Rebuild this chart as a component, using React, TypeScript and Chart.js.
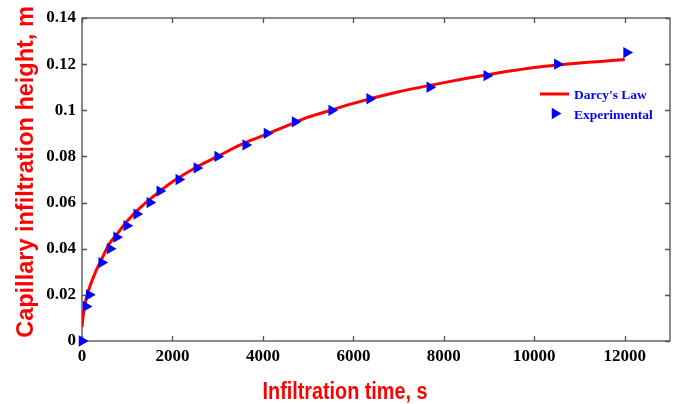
import React, { useEffect, useRef } from "react";
import { Chart, registerables } from "chart.js";

Chart.register(...registerables);

// ---- data ----
const timeTicks = [0, 2000, 4000, 6000, 8000, 10000, 12000];
const timeTickLabels = ["0", "2000", "4000", "6000", "8000", "10000", "12000"];
const heightTicks = [0, 0.02, 0.04, 0.06, 0.08, 0.1, 0.12, 0.14];
const heightTickLabels = ["0", "0.02", "0.04", "0.06", "0.08", "0.1", "0.12", "0.14"];

const darcyTime = [0, 20, 50, 100, 200, 300, 400, 600, 800, 1000, 1300, 1600, 2000, 2500, 3000, 3500, 4000, 4500, 5000, 5500, 6000, 7000, 8000, 9000, 10000, 11000, 12000];
const darcyHeight = [0.006, 0.01, 0.014, 0.019, 0.025, 0.03, 0.034, 0.042, 0.047, 0.052, 0.058, 0.063, 0.069, 0.075, 0.08, 0.085, 0.089, 0.093, 0.097, 0.1, 0.103, 0.108, 0.112, 0.1155, 0.1185, 0.1205, 0.122];

const expTime = [0, 88, 160, 435, 620, 765, 990, 1210, 1500, 1720, 2140, 2540, 3000, 3620, 4090, 4710, 5520, 6360, 7690, 8950, 10510, 12040];
const expHeight = [0, 0.015, 0.02, 0.034, 0.04, 0.045, 0.05, 0.055, 0.06, 0.065, 0.07, 0.075, 0.08, 0.085, 0.09, 0.095, 0.1, 0.105, 0.11, 0.115, 0.12, 0.125];

const xTitle = "Infiltration time, s";
const yTitle = "Capillary infiltration height, m";
const legendLabels = ["Darcy's Law", "Experimental"];

const RED = "#ff0000";
const BLUE = "#0000ff";
const AXIS = "#505050";
const SERIF = '"Liberation Serif", "Times New Roman", serif';
const SANS = '"Liberation Sans", Arial, sans-serif';

const framePlugin = {
  id: "frame",
  beforeDatasetsDraw(chart: any) {
    const { ctx, chartArea } = chart;
    const { left, right, top, bottom } = chartArea;
    const xs = chart.scales.x;
    const ys = chart.scales.y;
    ctx.save();
    ctx.strokeStyle = AXIS;
    ctx.lineWidth = 1.3;
    ctx.strokeRect(left, top, right - left, bottom - top);
    ctx.beginPath();
    const tl = 5;
    timeTicks.forEach((v) => {
      const px = Math.round(xs.getPixelForValue(v)) + 0.5;
      ctx.moveTo(px, bottom);
      ctx.lineTo(px, bottom - tl);
      ctx.moveTo(px, top);
      ctx.lineTo(px, top + tl);
    });
    heightTicks.forEach((v) => {
      const py = Math.round(ys.getPixelForValue(v)) + 0.5;
      ctx.moveTo(left, py);
      ctx.lineTo(left + tl, py);
      ctx.moveTo(right, py);
      ctx.lineTo(right - tl, py);
    });
    ctx.stroke();
    ctx.restore();
  },
};

const textPlugin = {
  id: "texts",
  afterDraw(chart: any) {
    const { ctx } = chart;
    ctx.save();
    // x title (slightly condensed like the reference)
    ctx.fillStyle = RED;
    ctx.font = `bold 23px ${SANS}`;
    ctx.textAlign = "center";
    ctx.textBaseline = "alphabetic";
    ctx.save();
    ctx.translate(345, 399);
    ctx.scale(0.86, 1);
    ctx.fillText(xTitle, 0, 0);
    ctx.restore();
    // y title
    ctx.save();
    ctx.font = `bold 23.5px ${SANS}`;
    ctx.translate(33, 172);
    ctx.rotate(-Math.PI / 2);
    ctx.fillText(yTitle, 0, 0);
    ctx.restore();

    // legend
    ctx.strokeStyle = RED;
    ctx.lineWidth = 3;
    ctx.beginPath();
    ctx.moveTo(540, 94);
    ctx.lineTo(569, 94);
    ctx.stroke();
    ctx.fillStyle = BLUE;
    ctx.beginPath();
    const cx = 555, cy = 113.5, r = 6.5;
    for (let k = 0; k < 3; k++) {
      const a = Math.PI / 2 + (k * 2 * Math.PI) / 3;
      const px = cx + Math.sin(a) * r;
      const py = cy - Math.cos(a) * r;
      if (k === 0) ctx.moveTo(px, py);
      else ctx.lineTo(px, py);
    }
    ctx.closePath();
    ctx.fill();
    ctx.font = `bold 13.5px ${SERIF}`;
    ctx.textAlign = "left";
    ctx.fillText(legendLabels[0], 574, 99);
    ctx.fillText(legendLabels[1], 574, 118.5);
    ctx.restore();
  },
};

export default function App() {
  const ref = useRef<HTMLCanvasElement | null>(null);

  useEffect(() => {
    if (!ref.current) return;
    const tickFont = { family: SERIF, weight: "bold" as const, size: 17 };
    const chart = new Chart(ref.current, {
      type: "scatter",
      data: {
        datasets: [
          {
            label: legendLabels[0],
            data: darcyTime.map((t, i) => ({ x: t, y: darcyHeight[i] })),
            showLine: true,
            borderColor: RED,
            backgroundColor: RED,
            borderWidth: 3,
            pointRadius: 0,
            cubicInterpolationMode: "monotone",
            order: 1,
          },
          {
            label: legendLabels[1],
            data: expTime.map((t, i) => ({ x: t, y: expHeight[i] })),
            showLine: false,
            pointStyle: "triangle",
            rotation: 90,
            pointRadius: 6.5,
            backgroundColor: BLUE,
            borderColor: BLUE,
            borderWidth: 0,
            clip: false as any,
            order: 0,
          },
        ],
      },
      options: {
        animation: false,
        responsive: false,
        maintainAspectRatio: false,
        layout: { padding: { top: 18, right: 9, left: 0, bottom: 0 } },
        plugins: {
          legend: { display: false },
          tooltip: { enabled: false },
          title: { display: false },
        },
        scales: {
          x: {
            type: "linear",
            min: 0,
            max: 13000,
            afterBuildTicks: (s: any) => {
              s.ticks = timeTicks.map((v) => ({ value: v }));
            },
            afterFit: (s: any) => {
              s.height = 63;
            },
            grid: { display: false, drawTicks: false },
            border: { display: false },
            ticks: {
              font: tickFont,
              color: "#000",
              padding: 5,
              maxRotation: 0,
              autoSkip: false,
              callback: (v: any) => timeTickLabels[timeTicks.indexOf(Number(v))] ?? "",
            },
          },
          y: {
            type: "linear",
            min: 0,
            max: 0.14,
            afterBuildTicks: (s: any) => {
              s.ticks = heightTicks.map((v) => ({ value: v }));
            },
            afterFit: (s: any) => {
              s.width = 82;
            },
            grid: { display: false, drawTicks: false },
            border: { display: false },
            ticks: {
              font: tickFont,
              color: "#000",
              padding: 6,
              autoSkip: false,
              callback: (v: any) => {
                const idx = heightTicks.findIndex((h) => Math.abs(h - Number(v)) < 1e-9);
                return idx >= 0 ? heightTickLabels[idx] : "";
              },
            },
          },
        },
      },
      plugins: [framePlugin, textPlugin],
    } as any);
    return () => chart.destroy();
  }, []);

  return (
    <div style={{ position: "absolute", left: 0, top: 0, width: 679, height: 404, background: "#fff" }}>
      <canvas ref={ref} width={679} height={404} style={{ display: "block", width: 679, height: 404 }} />
    </div>
  );
}
